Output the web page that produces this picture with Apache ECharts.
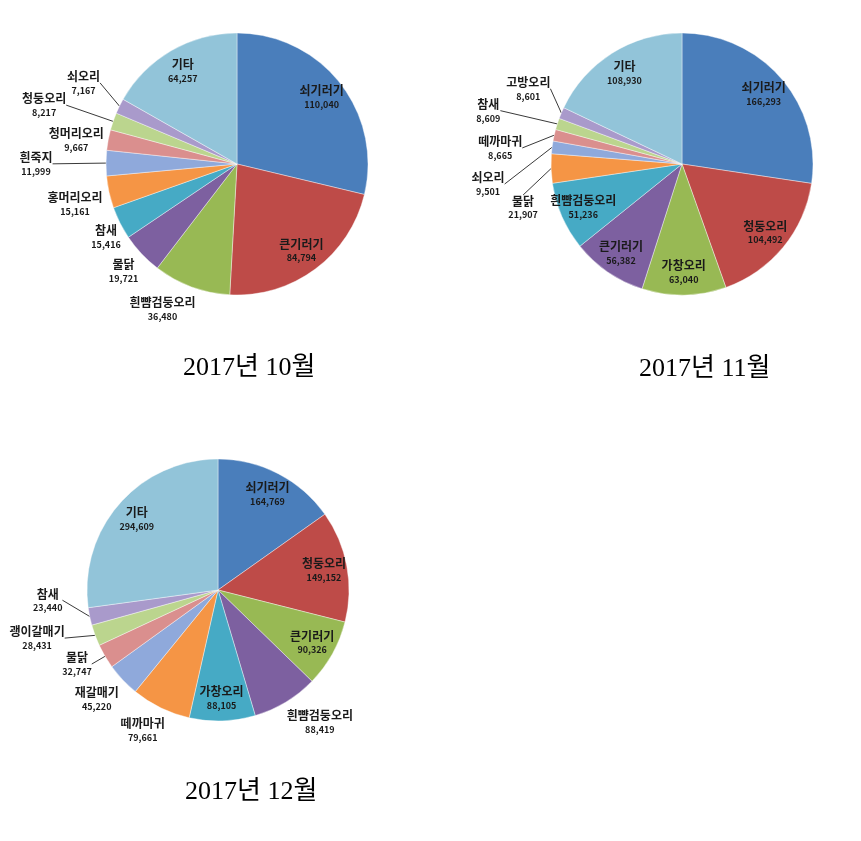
<!DOCTYPE html>
<html><head><meta charset="utf-8">
<script src="https://cdn.jsdelivr.net/npm/echarts@6/dist/echarts.min.js"></script>
<style>html,body{margin:0;padding:0;background:#fff}#c{width:861px;height:841px}</style>
</head><body><div id="c"></div>
<script>
// ---- data ----
const octNames = ['쇠기러기','큰기러기','흰뺨검둥오리','물닭','참새','홍머리오리','흰죽지','청머리오리','청둥오리','쇠오리','기타'];
const octValues = [110040, 84794, 36480, 19721, 15416, 15161, 11999, 9667, 8217, 7167, 64257];
const novNames = ['쇠기러기','청둥오리','가창오리','큰기러기','흰뺨검둥오리','물닭','쇠오리','떼까마귀','참새','고방오리','기타'];
const novValues = [166293, 104492, 63040, 56382, 51236, 21907, 9501, 8665, 8609, 8601, 108930];
const decNames = ['쇠기러기','청둥오리','큰기러기','흰뺨검둥오리','가창오리','떼까마귀','재갈매기','물닭','괭이갈매기','참새','기타'];
const decValues = [164769, 149152, 90326, 88419, 88105, 79661, 45220, 32747, 28431, 23440, 294609];
const titles = ['2017년 10월', '2017년 11월', '2017년 12월'];

// ---- style / layout ----
const colors = ['#4A7EBB','#BE4B48','#98B954','#7D60A0','#46AAC5','#F59545','#8FA9DB','#DA8F8E','#BBD58E','#A99ACB','#92C4D9'];
const FONT = "'Noto Sans CJK KR', sans-serif";
const R = 131;
// outside label offsets (label centre relative to the slice's edge anchor), keyed by item index
const pies = [
  {names: octNames, values: octValues, center: [237,164], title: [183,355],
   inside: [0,1,10], lines: [6,8,9],
   offsets: {2:[-29,22],3:[-18,17],4:[-14,14],5:[-34,12],6:[-70,1],7:[-32,0],8:[-69,-16],9:[-36,-23]}},
  {names: novNames, values: novValues, center: [682,164], title: [639,356],
   inside: [0,1,2,3,4,10], lines: [5,6,7,8,9],
   offsets: {5:[-28,39],6:[-64,37],7:[-54,13],8:[-69,-13],9:[-33,-24]}},
  {names: decNames, values: decValues, center: [218,590], title: [185,779],
   inside: [0,1,2,4,10], lines: [7,8,9],
   offsets: {3:[34,20],5:[-18,22],6:[-26,19],7:[-28,8],8:[-58,3],9:[-42,-16]}}
];
const fmt = v => v.toLocaleString('en-US');
const rich = {
  n: {fontFamily: FONT, fontWeight: 'bold', fontSize: 12, color: '#1a1a1a', lineHeight: 15},
  v: {fontFamily: FONT, fontWeight: 'bold', fontSize: 9, color: '#1a1a1a', lineHeight: 13}
};
const labelFmt = d => `{n|${d.name}}\n{v|${fmt(d.value)}}`;
const series = [];
pies.forEach((p) => {
  const mk = (withInside) => p.names.map((n, i) => {
    const isIn = p.inside.includes(i);
    return {
      name: n, value: p.values[i],
      itemStyle: {color: withInside ? 'rgba(0,0,0,0)' : colors[i]},
      label: {show: withInside ? isIn : !isIn},
      labelLine: {show: !withInside && !isIn, lineStyle: {opacity: p.lines.includes(i) ? 1 : 0}}
    };
  });
  series.push({
    type: 'pie', center: p.center, radius: [0, R], startAngle: 90, clockwise: true,
    avoidLabelOverlap: false, animation: false,
    itemStyle: {borderColor: '#fff', borderWidth: 0.4},
    label: {position: 'outside', formatter: labelFmt, rich, distanceToLabelLine: 0},
    labelLine: {length: 6, length2: 0, smooth: false, lineStyle: {color: '#3a3a3a', width: 1}},
    labelLayout: (params) => {
      const off = p.offsets[params.dataIndex];
      const pts = params.labelLinePoints;
      if (!off || !pts) return {};
      return {x: pts[0][0] + off[0], y: pts[0][1] + off[1], align: 'center', verticalAlign: 'middle'};
    },
    data: mk(false)
  });
  series.push({
    type: 'pie', center: p.center, radius: [R * 0.6, R], startAngle: 90, clockwise: true,
    silent: true, animation: false, avoidLabelOverlap: false,
    label: {position: 'inside', formatter: labelFmt, rich},
    labelLine: {show: false},
    data: mk(true)
  });
});
const chart = echarts.init(document.getElementById('c'));
chart.setOption({
  backgroundColor: '#fff',
  title: pies.map((p, k) => ({
    text: titles[k], left: p.title[0], top: p.title[1], padding: 0,
    textStyle: {fontFamily: "'Liberation Serif', 'Noto Sans CJK KR', serif", fontWeight: 'normal', fontSize: 26, color: '#000'}
  })),
  series
});
</script></body></html>
